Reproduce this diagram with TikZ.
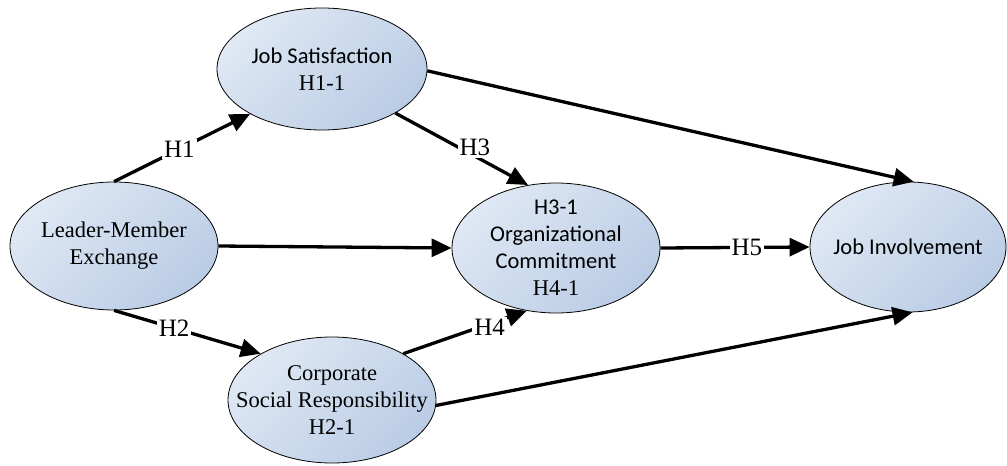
\documentclass[tikz,border=0pt]{standalone}
\usepackage{fontspec}
\setmainfont{Liberation Serif}
\newfontfamily\fcarl{Carlito}
\newfontfamily\ftms{Liberation Serif}
\usetikzlibrary{shapes.geometric,arrows.meta}
\definecolor{elA}{HTML}{DFE8F4}
\definecolor{elB}{HTML}{BACCE5}
\begin{document}
\begin{tikzpicture}[x=1pt,y=-1pt,
  construct/.style={ellipse,draw=black,line width=0.8pt,inner sep=0pt,
    top color=elA,bottom color=elB,shading angle=45},
  txt/.style={align=center,font=\fontsize{22.5}{27}\selectfont},
  link/.style={line width=3.3pt,-{Triangle[length=20pt,width=18pt]}},
  hlab/.style={fill=white,inner sep=2pt,font=\ftms\fontsize{25}{27}\selectfont}]
\useasboundingbox (0,0) rectangle (1007,466);
\node[construct,minimum width=210pt,minimum height=122pt,
  label={[txt]center:{\fcarl Job Satisfaction}\\{\ftms H1-1}}] (js) at (322,69) {};
\node[construct,minimum width=208pt,minimum height=128pt,
  label={[txt]center:{\ftms Leader-Member}\\{\ftms Exchange}}] (lmx) at (114,246) {};
\node[construct,minimum width=208pt,minimum height=130pt,
  label={[txt]center:{\fcarl H3-1}\\{\fcarl Organizational}\\{\fcarl Commitment}\\{\ftms H4-1}}] (oc) at (556,248) {};
\node[construct,minimum width=196pt,minimum height=130pt,
  label={[txt]center:{\fcarl Job Involvement}}] (ji) at (908,247) {};
\node[construct,minimum width=208pt,minimum height=126pt,
  label={[txt]center:{\ftms Corporate}\\{\ftms Social Responsibility}\\{\ftms H2-1}}] (csr) at (332,400) {};
\draw[link] (lmx.90) -- node[hlab,pos=0.48]{H1} (js.212);
\draw[link] (js.329) -- node[hlab,pos=0.6,yshift=9pt]{H3} (oc.114);
\draw[link] (lmx.0) -- (oc.180);
\draw[link] (oc.0) -- node[hlab,pos=0.58]{H5} (ji.180);
\draw[link] (js.359) -- (ji.85);
\draw[link] (lmx.270) -- node[hlab,pos=0.41]{H2} (csr.147);
\draw[link] (csr.33) -- node[hlab,pos=0.7,yshift=-4pt]{H4} (oc.245);
\draw[link] (csr.357) -- (ji.274);
\end{tikzpicture}
\end{document}
